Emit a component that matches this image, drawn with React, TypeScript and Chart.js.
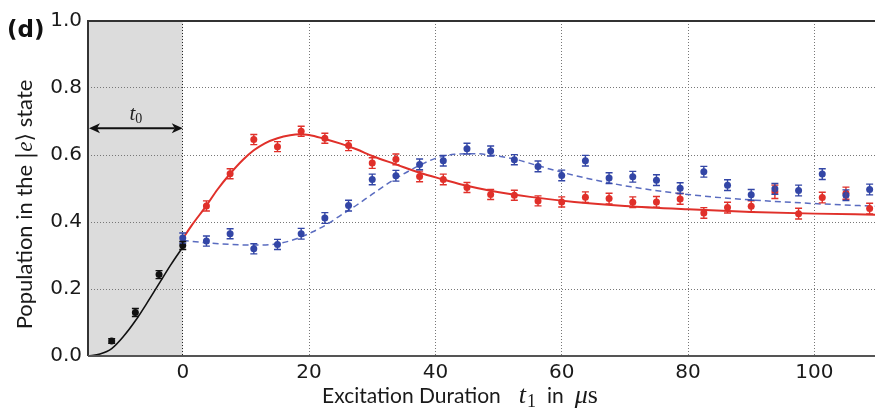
import React, { useEffect, useRef } from "react";
import { Chart, registerables } from "chart.js";
Chart.register(...registerables);

// ---------- data ----------
const xTicks = [0, 20, 40, 60, 80, 100];
const yTicks = [0, 0.2, 0.4, 0.6, 0.8, 1.0];
const xMin = -15;
const xMax = 109.6;
const shadeStart = -15;
const shadeEnd = 0;
const arrowLevel = 0.68;

const blackT = [-11.25, -7.5, -3.75, 0];
const blackPop = [0.045, 0.13, 0.243, 0.33];
const blackErr = [0.007, 0.012, 0.012, 0.012];

const redT = [3.75, 7.5, 11.25, 15, 18.75, 22.5, 26.25, 30, 33.75, 37.5, 41.25, 45, 48.75, 52.5, 56.25, 60, 63.75, 67.5, 71.25, 75, 78.75, 82.5, 86.25, 90, 93.75, 97.5, 101.25, 105, 108.75];
const redPop = [0.448, 0.544, 0.646, 0.625, 0.671, 0.65, 0.628, 0.576, 0.587, 0.536, 0.527, 0.503, 0.482, 0.48, 0.463, 0.46, 0.474, 0.47, 0.459, 0.46, 0.469, 0.427, 0.443, 0.447, 0.49, 0.425, 0.473, 0.486, 0.44];
const redErr = [0.015, 0.015, 0.015, 0.015, 0.015, 0.015, 0.015, 0.016, 0.016, 0.016, 0.016, 0.015, 0.015, 0.015, 0.015, 0.015, 0.016, 0.016, 0.016, 0.016, 0.016, 0.016, 0.016, 0.016, 0.02, 0.016, 0.016, 0.018, 0.016];

const blueT = [0, 3.75, 7.5, 11.25, 15, 18.75, 22.5, 26.25, 30, 33.75, 37.5, 41.25, 45, 48.75, 52.5, 56.25, 60, 63.75, 67.5, 71.25, 75, 78.75, 82.5, 86.25, 90, 93.75, 97.5, 101.25, 105, 108.75];
const bluePop = [0.352, 0.343, 0.365, 0.32, 0.333, 0.365, 0.412, 0.449, 0.527, 0.538, 0.572, 0.583, 0.619, 0.612, 0.586, 0.566, 0.539, 0.583, 0.531, 0.535, 0.525, 0.501, 0.55, 0.51, 0.481, 0.499, 0.494, 0.543, 0.48, 0.497];
const blueErr = [0.015, 0.015, 0.015, 0.015, 0.015, 0.016, 0.016, 0.016, 0.016, 0.016, 0.016, 0.016, 0.016, 0.015, 0.015, 0.016, 0.016, 0.016, 0.016, 0.016, 0.016, 0.016, 0.016, 0.016, 0.016, 0.016, 0.016, 0.016, 0.016, 0.016];

const redFitT = [0, 1.5, 3.75, 5.5, 7.5, 9.5, 11.25, 13, 15, 17, 18.5, 20, 22.5, 25, 27.5, 30, 33.75, 37.5, 41.25, 45, 48.75, 55, 62, 70, 80, 90, 100, 109.6];
const redFitPop = [0.35, 0.392, 0.449, 0.497, 0.544, 0.585, 0.614, 0.635, 0.65, 0.659, 0.662, 0.66, 0.648, 0.634, 0.617, 0.597, 0.572, 0.547, 0.527, 0.508, 0.493, 0.475, 0.46, 0.448, 0.438, 0.43, 0.425, 0.422];

const blueFitT = [0, 3.75, 7.5, 11.25, 15, 18, 20.5, 23, 25, 27.5, 30, 33.75, 37.5, 40, 43, 46, 48.75, 52.5, 56.25, 62, 71, 80, 90, 100, 109.6];
const blueFitPop = [0.345, 0.338, 0.333, 0.331, 0.335, 0.35, 0.37, 0.395, 0.42, 0.45, 0.483, 0.53, 0.569, 0.59, 0.602, 0.604, 0.6, 0.588, 0.568, 0.539, 0.505, 0.482, 0.466, 0.455, 0.447];

const blackFitT = [-15, -13.1, -11.25, -9.4, -7.5, -5.6, -3.75, -1.9, 0];
const blackFitPop = [0, 0.006, 0.022, 0.058, 0.105, 0.16, 0.216, 0.272, 0.325];

// ---------- styles ----------
const RED = "#e0302a";
const BLUE = "#3346a6";
const BLUE_FIT = "#5a6cc0";
const SANS = "Lato";
const TICK_FONT = "DejaVu Sans";

const pts = (xs: number[], ys: number[]) => xs.map((x, i) => ({ x, y: ys[i] }));

type Seg = { t: string; f: string; dy?: number; gap?: number };

function drawSegments(ctx: CanvasRenderingContext2D, segs: Seg[], cx: number, baseline: number) {
  let total = 0;
  for (const s of segs) {
    ctx.font = s.f;
    total += ctx.measureText(s.t).width + (s.gap || 0);
  }
  let x = cx - total / 2;
  ctx.textAlign = "left";
  ctx.textBaseline = "alphabetic";
  for (const s of segs) {
    x += s.gap || 0;
    ctx.font = s.f;
    ctx.fillText(s.t, x, baseline + (s.dy || 0));
    x += ctx.measureText(s.t).width;
  }
}

const decorPlugin = {
  id: "decor",
  beforeDraw(chart: any) {
    const { ctx, chartArea, scales } = chart;
    const x0 = scales.x.getPixelForValue(shadeStart);
    const x1 = scales.x.getPixelForValue(shadeEnd);
    ctx.save();
    ctx.fillStyle = "#dcdcdc";
    ctx.fillRect(x0, chartArea.top, x1 - x0, chartArea.bottom - chartArea.top);
    ctx.restore();
  },
  afterDatasetsDraw(chart: any) {
    const { ctx, scales } = chart;
    const ys = scales.y;
    chart.data.datasets.forEach((ds: any, di: number) => {
      if (!ds.errors) return;
      const meta = chart.getDatasetMeta(di);
      ctx.save();
      ctx.strokeStyle = ds.borderColor;
      ctx.lineWidth = 1.4;
      meta.data.forEach((el: any, i: number) => {
        const v = ds.data[i].y;
        const e = ds.errors[i];
        const yt = ys.getPixelForValue(v + e);
        const yb = ys.getPixelForValue(v - e);
        const x = el.x;
        ctx.beginPath();
        ctx.moveTo(x, yt);
        ctx.lineTo(x, yb);
        ctx.moveTo(x - 3.5, yt);
        ctx.lineTo(x + 3.5, yt);
        ctx.moveTo(x - 3.5, yb);
        ctx.lineTo(x + 3.5, yb);
        ctx.stroke();
      });
      ctx.restore();
    });
  },
  afterDraw(chart: any) {
    const { ctx, chartArea, scales } = chart;
    const { left, right, top, bottom } = chartArea;
    ctx.save();
    // frame
    ctx.strokeStyle = "#333";
    ctx.lineWidth = 2;
    ctx.beginPath();
    ctx.moveTo(left, bottom);
    ctx.lineTo(left, top);
    ctx.lineTo(right, top);
    ctx.stroke();
    ctx.strokeStyle = "#555";
    ctx.beginPath();
    ctx.moveTo(left, bottom);
    ctx.lineTo(right, bottom);
    ctx.stroke();

    // arrow t0
    const ay = scales.y.getPixelForValue(arrowLevel);
    const ax0 = scales.x.getPixelForValue(shadeStart) + 1;
    const ax1 = scales.x.getPixelForValue(shadeEnd);
    ctx.strokeStyle = "#111";
    ctx.fillStyle = "#111";
    ctx.lineWidth = 2;
    ctx.beginPath();
    ctx.moveTo(ax0 + 8, ay);
    ctx.lineTo(ax1 - 8, ay);
    ctx.stroke();
    ctx.beginPath();
    ctx.moveTo(ax0, ay);
    ctx.lineTo(ax0 + 11, ay - 5);
    ctx.lineTo(ax0 + 8, ay);
    ctx.lineTo(ax0 + 11, ay + 5);
    ctx.closePath();
    ctx.fill();
    ctx.beginPath();
    ctx.moveTo(ax1, ay);
    ctx.lineTo(ax1 - 11, ay - 5);
    ctx.lineTo(ax1 - 8, ay);
    ctx.lineTo(ax1 - 11, ay + 5);
    ctx.closePath();
    ctx.fill();
    ctx.fillStyle = "#222";
    drawSegments(ctx, [
      { t: "t", f: "italic 21px 'Liberation Serif'" },
      { t: "0", f: "14px 'Liberation Serif'", dy: 3 },
    ], (ax0 + ax1) / 2, ay - 8);

    // (d)
    ctx.fillStyle = "#111";
    ctx.font = "bold 23px 'DejaVu Sans'";
    ctx.textAlign = "left";
    ctx.textBaseline = "alphabetic";
    ctx.fillText("(d)", 7, 37);

    // x title
    ctx.fillStyle = "#1a1a1a";
    drawSegments(ctx, [
      { t: "Excitation Duration", f: `21px ${SANS}` },
      { t: "t", f: "italic 26px 'Liberation Serif'", gap: 18 },
      { t: "1", f: "18px 'Liberation Serif'", dy: 4, gap: 1 },
      { t: "in", f: `21px ${SANS}`, gap: 11 },
      { t: "\u03bc", f: "italic 26px 'Liberation Serif'", gap: 11 },
      { t: "s", f: "26px 'Liberation Serif'" },
    ], 460, 403);

    // y title
    ctx.translate(32, (top + bottom) / 2 + 16);
    ctx.rotate(-Math.PI / 2);
    drawSegments(ctx, [
      { t: "Population in the ", f: `22px ${SANS}` },
      { t: "|", f: "22px 'DejaVu Serif'" },
      { t: "e", f: "italic 23px 'Liberation Serif'" },
      { t: "\u27e9", f: "22px 'DejaVu Sans'" },
      { t: " state", f: `22px ${SANS}` },
    ], 0, 0);
    ctx.restore();
  },
};

export default function App() {
  const ref = useRef<HTMLCanvasElement | null>(null);
  useEffect(() => {
    if (!ref.current) return;
    const gridColor = (c: any) => (c.tick && c.tick.value === 0 ? "#222" : "#777");
    const chart = new Chart(ref.current, {
      type: "scatter",
      data: {
        datasets: [
          { label: "red", data: pts(redT, redPop), showLine: false, pointRadius: 3.5, pointHoverRadius: 3.5, backgroundColor: RED, borderColor: RED, borderWidth: 0, order: 1, errors: redErr } as any,
          { label: "blue", data: pts(blueT, bluePop), showLine: false, pointRadius: 3.5, pointHoverRadius: 3.5, backgroundColor: BLUE, borderColor: BLUE, borderWidth: 0, order: 0, errors: blueErr } as any,
          { label: "black", data: pts(blackT, blackPop), showLine: false, pointRadius: 3.5, pointHoverRadius: 3.5, backgroundColor: "#111", borderColor: "#111", borderWidth: 0, order: 2, errors: blackErr } as any,
          { label: "red fit", data: pts(redFitT, redFitPop), showLine: true, pointRadius: 0, borderColor: RED, borderWidth: 2, cubicInterpolationMode: "monotone", order: 5 } as any,
          { label: "blue fit", data: pts(blueFitT, blueFitPop), showLine: true, pointRadius: 0, borderColor: BLUE_FIT, borderWidth: 1.5, borderDash: [6, 4], cubicInterpolationMode: "monotone", order: 6 } as any,
          { label: "black fit", data: pts(blackFitT, blackFitPop), showLine: true, pointRadius: 0, borderColor: "#111", borderWidth: 1.6, cubicInterpolationMode: "monotone", order: 7 } as any,
        ],
      },
      options: {
        animation: false,
        responsive: false,
        events: [],
        layout: { autoPadding: false, padding: { top: 21, left: 0, right: 0, bottom: 0 } },
        plugins: { legend: { display: false }, tooltip: { enabled: false } },
        scales: {
          x: {
            type: "linear",
            min: xMin,
            max: xMax,
            afterBuildTicks: (s: any) => { s.ticks = xTicks.map((v) => ({ value: v })); },
            afterFit: (s: any) => { s.height = 58; s.paddingLeft = 0; s.paddingRight = 0; },
            grid: { color: gridColor, lineWidth: 1, drawTicks: false },
            border: { display: false, dash: [1, 2] },
            ticks: { color: "#1a1a1a", font: { family: TICK_FONT, size: 20 }, padding: 5, maxRotation: 0, callback: (v: any) => String(v) },
          },
          y: {
            type: "linear",
            min: 0,
            max: 1,
            afterBuildTicks: (s: any) => { s.ticks = yTicks.map((v) => ({ value: v })); },
            afterFit: (s: any) => { s.width = 88; s.paddingTop = 0; s.paddingBottom = 0; },
            grid: { color: "#777", lineWidth: 1, drawTicks: false },
            border: { display: false, dash: [1, 2] },
            ticks: { color: "#1a1a1a", font: { family: TICK_FONT, size: 20 }, padding: 6, callback: (v: any) => Number(v).toFixed(1) },
          },
        },
      } as any,
      plugins: [decorPlugin],
    });
    return () => chart.destroy();
  }, []);
  return (
    <div style={{ position: "absolute", left: 0, top: 0, width: 875, height: 414, background: "#fff" }}>
      <canvas ref={ref} width={875} height={414} style={{ display: "block" }} />
    </div>
  );
}
